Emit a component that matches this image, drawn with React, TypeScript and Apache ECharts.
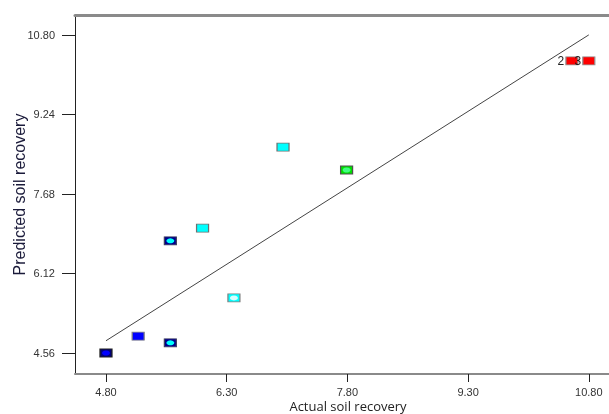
import React, { useEffect, useRef } from "react";
import * as echarts from "echarts";

const actual = [4.8, 5.2, 5.6, 5.6, 6.0, 6.39, 7.0, 7.79, 10.59, 10.8];
const predicted = [4.56, 4.89, 4.76, 6.76, 7.01, 5.64, 8.6, 8.15, 10.29, 10.29];
const pointLabels = ["", "", "", "", "", "", "", "", "2", "3"];
const xTicks = [4.8, 6.3, 7.8, 9.3, 10.8];
const yTicks = [4.56, 6.12, 7.68, 9.24, 10.8];
const fitLine = [
  [4.8, 4.8],
  [10.8, 10.8],
];

// styles (not data)
const rectFill = ["#00007a", "#0000ff", "#00008c", "#00008c", "#00ffff", "#00ffff", "#00ffff", "#00e000", "#ff0000", "#ff0000"];
const rectBorder = ["#202020", "#808080", "#404060", "#404060", "#707070", "#808080", "#707070", "#505050", "#909090", "#909090"];
const innerFill = ["#0000ff", null, "#00ffff", "#00ffff", null, "#d8ffff", null, "#40ff80", null, null];

export default function App() {
  const ref = useRef<HTMLDivElement>(null);
  useEffect(() => {
    const chart = echarts.init(ref.current!, null, { renderer: "svg" });
    const rectData = actual.map((a, i) => ({
      value: [a, predicted[i]],
      itemStyle: { color: rectFill[i], borderColor: rectBorder[i], borderWidth: 1, opacity: 1 },
      label: pointLabels[i]
        ? { show: true, formatter: pointLabels[i], position: "left", distance: 1, color: "#222", fontSize: 12, fontFamily: "Liberation Sans" }
        : { show: false },
    }));
    const innerData = actual
      .map((a, i) => (innerFill[i] ? { value: [a, predicted[i]], itemStyle: { color: innerFill[i], opacity: 1 } } : null))
      .filter((d) => d);
    const tickFont = { fontFamily: "Liberation Sans", fontSize: 11, color: "#333", lineHeight: 12 };
    chart.setOption({
      animation: false,
      grid: { left: 75, top: 15, right: -12, bottom: 40, outerBoundsMode: "none", containLabel: false },
      xAxis: [
        {
          type: "value",
          min: 4.415,
          max: 11.2,
          axisLine: { show: true, lineStyle: { color: "#8a8a8a", width: 2 } },
          axisTick: { show: true, length: 8, lineStyle: { color: "#222" }, customValues: xTicks },
          axisLabel: { ...tickFont, margin: 12, customValues: xTicks, formatter: (v: number) => v.toFixed(2) },
          splitLine: { show: false },
          name: "Actual soil recovery",
          nameLocation: "middle",
          nameGap: 25,
          nameMoveOverlap: false,
          nameTextStyle: { fontFamily: "Open Sans", fontSize: 13, color: "#222", lineHeight: 13 },
        },
        {
          type: "value",
          position: "top",
          min: 4.415,
          max: 11.2,
          axisLine: { show: true, lineStyle: { color: "#8a8a8a", width: 3 } },
          axisTick: { show: false },
          axisLabel: { show: false },
          splitLine: { show: false },
        },
      ],
      yAxis: {
        type: "value",
        min: 4.148,
        max: 11.19,
        axisLine: { show: true, lineStyle: { color: "#222", width: 1 } },
        axisTick: { show: true, length: 13, lineStyle: { color: "#222" }, customValues: yTicks },
        axisLabel: { ...tickFont, margin: 20, customValues: yTicks, formatter: (v: number) => v.toFixed(2) },
        splitLine: { show: false },
        name: "Predicted soil recovery",
        nameLocation: "middle",
        nameGap: 48,
        nameMoveOverlap: false,
        nameTextStyle: { fontFamily: "Liberation Sans", fontSize: 16, color: "#1a1a3a" },
      },
      series: [
        {
          type: "line",
          data: fitLine,
          symbol: "none",
          lineStyle: { color: "#444", width: 1 },
          silent: true,
        },
        {
          type: "scatter",
          data: rectData,
          symbol: "rect",
          symbolSize: [12, 8],
        },
        {
          type: "scatter",
          data: innerData,
          symbol: "circle",
          symbolSize: [8, 5],
          silent: true,
        },
      ],
    });
    return () => chart.dispose();
  }, []);
  return <div ref={ref} style={{ position: "fixed", left: 0, top: 0, width: 609, height: 414 }} />;
}
